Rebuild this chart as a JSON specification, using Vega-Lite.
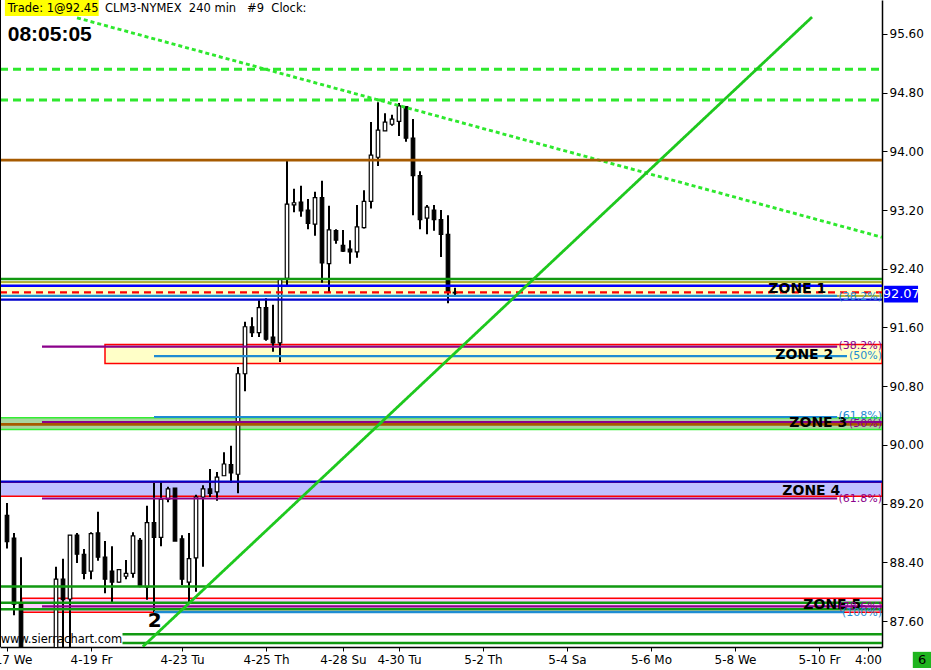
{
  "$schema": "https://vega.github.io/schema/vega-lite/v6.json",
  "width": 882,
  "height": 647,
  "autosize": {"type": "none"},
  "padding": {"left": 0, "top": 0, "right": 49, "bottom": 23},
  "background": "white",
  "datasets": {
    "candles": [
      {"i": 1, "o": 89.04, "h": 89.21, "l": 88.59, "c": 88.68},
      {"i": 2, "o": 88.73, "h": 88.80, "l": 87.68, "c": 87.83},
      {"i": 3, "o": 87.83, "h": 88.47, "l": 86.95, "c": 87.05},
      {"i": 8, "o": 87.15, "h": 88.34, "l": 87.00, "c": 88.17},
      {"i": 9, "o": 88.17, "h": 88.45, "l": 87.20, "c": 87.89},
      {"i": 10, "o": 87.90, "h": 88.77, "l": 87.15, "c": 88.77},
      {"i": 11, "o": 88.77, "h": 88.80, "l": 88.39, "c": 88.51},
      {"i": 12, "o": 88.51, "h": 88.58, "l": 88.17, "c": 88.25},
      {"i": 13, "o": 88.28, "h": 88.81, "l": 88.17, "c": 88.79},
      {"i": 14, "o": 88.80, "h": 89.09, "l": 88.42, "c": 88.47},
      {"i": 15, "o": 88.47, "h": 88.69, "l": 87.98, "c": 88.17},
      {"i": 16, "o": 88.28, "h": 88.62, "l": 87.86, "c": 88.13},
      {"i": 17, "o": 88.13, "h": 88.31, "l": 88.12, "c": 88.30},
      {"i": 18, "o": 88.21, "h": 88.43, "l": 88.17, "c": 88.25},
      {"i": 19, "o": 88.25, "h": 88.81, "l": 88.19, "c": 88.76},
      {"i": 20, "o": 88.70, "h": 88.73, "l": 88.06, "c": 88.08},
      {"i": 21, "o": 88.06, "h": 89.17, "l": 87.89, "c": 88.94},
      {"i": 22, "o": 88.94, "h": 89.48, "l": 87.72, "c": 88.74},
      {"i": 23, "o": 88.74, "h": 89.49, "l": 88.62, "c": 89.26},
      {"i": 24, "o": 89.26, "h": 89.43, "l": 89.22, "c": 89.40},
      {"i": 25, "o": 89.41, "h": 89.41, "l": 88.69, "c": 88.69},
      {"i": 26, "o": 88.72, "h": 88.77, "l": 88.09, "c": 88.17},
      {"i": 27, "o": 88.13, "h": 88.80, "l": 87.85, "c": 88.45},
      {"i": 28, "o": 88.46, "h": 89.32, "l": 88.00, "c": 89.29},
      {"i": 29, "o": 89.29, "h": 89.45, "l": 88.34, "c": 89.40},
      {"i": 30, "o": 89.40, "h": 89.67, "l": 89.29, "c": 89.34},
      {"i": 31, "o": 89.36, "h": 89.63, "l": 89.24, "c": 89.56},
      {"i": 32, "o": 89.58, "h": 89.90, "l": 89.58, "c": 89.74},
      {"i": 33, "o": 89.73, "h": 89.99, "l": 89.48, "c": 89.62},
      {"i": 34, "o": 89.60, "h": 91.06, "l": 89.34, "c": 90.97},
      {"i": 35, "o": 90.97, "h": 91.68, "l": 90.73, "c": 91.61},
      {"i": 36, "o": 91.61, "h": 91.74, "l": 91.47, "c": 91.53},
      {"i": 37, "o": 91.53, "h": 91.97, "l": 91.47, "c": 91.87},
      {"i": 38, "o": 91.87, "h": 92.00, "l": 91.42, "c": 91.44},
      {"i": 39, "o": 91.47, "h": 91.91, "l": 91.27, "c": 91.39},
      {"i": 40, "o": 91.39, "h": 92.27, "l": 91.13, "c": 92.26},
      {"i": 41, "o": 92.27, "h": 93.87, "l": 92.18, "c": 93.28},
      {"i": 42, "o": 93.27, "h": 93.49, "l": 93.17, "c": 93.30},
      {"i": 43, "o": 93.31, "h": 93.53, "l": 93.11, "c": 93.19},
      {"i": 44, "o": 93.20, "h": 93.35, "l": 92.94, "c": 93.02},
      {"i": 45, "o": 93.01, "h": 93.45, "l": 92.85, "c": 93.37},
      {"i": 46, "o": 93.37, "h": 93.60, "l": 92.21, "c": 92.48},
      {"i": 47, "o": 92.47, "h": 93.26, "l": 92.08, "c": 92.93},
      {"i": 48, "o": 92.92, "h": 92.94, "l": 92.74, "c": 92.79},
      {"i": 49, "o": 92.72, "h": 92.93, "l": 92.63, "c": 92.64},
      {"i": 50, "o": 92.67, "h": 92.79, "l": 92.47, "c": 92.63},
      {"i": 51, "o": 92.63, "h": 93.27, "l": 92.55, "c": 92.97},
      {"i": 52, "o": 92.96, "h": 93.47, "l": 92.95, "c": 93.32},
      {"i": 53, "o": 93.32, "h": 94.40, "l": 93.22, "c": 93.95},
      {"i": 54, "o": 93.92, "h": 94.67, "l": 93.80, "c": 94.29},
      {"i": 55, "o": 94.28, "h": 94.52, "l": 94.28, "c": 94.40},
      {"i": 56, "o": 94.37, "h": 94.50, "l": 94.35, "c": 94.44},
      {"i": 57, "o": 94.41, "h": 94.66, "l": 94.21, "c": 94.62},
      {"i": 58, "o": 94.61, "h": 94.62, "l": 94.13, "c": 94.18},
      {"i": 59, "o": 94.18, "h": 94.44, "l": 93.13, "c": 93.67},
      {"i": 60, "o": 93.67, "h": 93.73, "l": 92.94, "c": 93.07},
      {"i": 61, "o": 93.09, "h": 93.27, "l": 92.87, "c": 93.24},
      {"i": 62, "o": 93.20, "h": 93.27, "l": 92.92, "c": 93.07},
      {"i": 63, "o": 93.07, "h": 93.20, "l": 92.56, "c": 92.87},
      {"i": 64, "o": 92.87, "h": 93.13, "l": 91.93, "c": 92.08},
      {"i": 65, "o": 92.08, "h": 92.14, "l": 92.04, "c": 92.07}
    ],
    "zones": [
      {"zk": "z1", "i": 0, "i2": 126, "p": 92.22, "p2": 92.03},
      {"zk": "z2", "i": 15, "i2": 126, "p": 91.37, "p2": 91.11},
      {"zk": "z3", "i": 0, "i2": 126, "p": 90.37, "p2": 90.21},
      {"zk": "z4", "i": 0, "i2": 126, "p": 89.49, "p2": 89.30},
      {"zk": "z5", "i": 3.1, "i2": 126, "p": 87.91, "p2": 87.72}
    ],
    "levels": [
      {"kind": "gdash", "i": 0, "i2": 126, "p": 95.12, "p2": 95.12},
      {"kind": "gdash", "i": 0, "i2": 126, "p": 94.70, "p2": 94.70},
      {"kind": "gdiag", "i": 11, "i2": 126, "p": 95.82, "p2": 92.83},
      {"kind": "brown", "i": 0, "i2": 126, "p": 93.88, "p2": 93.88},
      {"kind": "green", "i": 0, "i2": 126, "p": 92.26, "p2": 92.26},
      {"kind": "blue2", "i": 0, "i2": 126, "p": 92.17, "p2": 92.17},
      {"kind": "reddash", "i": 0, "i2": 126, "p": 92.08, "p2": 92.08},
      {"kind": "lightblue", "i": 0, "i2": 119.6, "p": 92.03, "p2": 92.03},
      {"kind": "blue", "i": 0, "i2": 126, "p": 91.98, "p2": 91.98},
      {"kind": "purple", "i": 6, "i2": 119.6, "p": 91.34, "p2": 91.34},
      {"kind": "lightblue", "i": 22, "i2": 121, "p": 91.21, "p2": 91.21},
      {"kind": "lightblue", "i": 22, "i2": 119.6, "p": 90.38, "p2": 90.38},
      {"kind": "purple", "i": 6, "i2": 126, "p": 90.31, "p2": 90.31},
      {"kind": "brown", "i": 0, "i2": 126, "p": 90.28, "p2": 90.28},
      {"kind": "blue", "i": 0, "i2": 126, "p": 89.50, "p2": 89.50},
      {"kind": "purple", "i": 6, "i2": 119.6, "p": 89.27, "p2": 89.27},
      {"kind": "green", "i": 0, "i2": 126, "p": 88.07, "p2": 88.07},
      {"kind": "green", "i": 0, "i2": 126, "p": 87.85, "p2": 87.85},
      {"kind": "purple", "i": 6, "i2": 126, "p": 87.80, "p2": 87.80},
      {"kind": "green", "i": 0, "i2": 126, "p": 87.76, "p2": 87.76},
      {"kind": "lightblue", "i": 22, "i2": 120.6, "p": 87.72, "p2": 87.72},
      {"kind": "green", "i": 17.5, "i2": 126, "p": 87.42, "p2": 87.42},
      {"kind": "green", "i": 17.5, "i2": 126, "p": 87.30, "p2": 87.30},
      {"kind": "trend", "i": 20.4, "i2": 116, "p": 87.25, "p2": 95.83},
      {"kind": "frame", "i": 0, "i2": 0, "p": 87.246, "p2": 96.063}
    ],
    "zonelabels": [
      {"t": "ZONE 1", "i": 113.9, "p": 92.13},
      {"t": "ZONE 2", "i": 114.9, "p": 91.23},
      {"t": "ZONE 3", "i": 116.9, "p": 90.30},
      {"t": "ZONE 4", "i": 115.9, "p": 89.37},
      {"t": "ZONE 5", "i": 118.9, "p": 87.82}
    ],
    "pcts": [
      {"t": "(38.2%)", "kind": "lightblue", "i": 126, "p": 92.016},
      {"t": "(38.2%)", "kind": "purple", "i": 126, "p": 91.348},
      {"t": "(50%)", "kind": "lightblue", "i": 126, "p": 91.21},
      {"t": "(61.8%)", "kind": "lightblue", "i": 126, "p": 90.39},
      {"t": "(50%)", "kind": "purple", "i": 126, "p": 90.28},
      {"t": "(61.8%)", "kind": "purple", "i": 126, "p": 89.26},
      {"t": "(78.6%)", "kind": "purple", "i": 126, "p": 87.79},
      {"t": "(100%)", "kind": "lightblue", "i": 126, "p": 87.71}
    ],
    "notes": [
      {"t": "Trade: 1@92.45", "i": 1.1, "p": 95.94},
      {"t": "CLM3-NYMEX\u00a0\u00a0240 min\u00a0\u00a0\u00a0#9\u00a0\u00a0Clock:", "i": 15, "p": 95.94},
      {"t": "www.sierrachart.com", "i": 0.1, "p": 87.34}
    ]
  },
  "layer": [
    {
      "data": {"name": "zones"},
      "mark": {"type": "rect", "clip": true, "strokeWidth": 1.5},
      "encoding": {
        "x": {"field": "i", "type": "quantitative", "scale": {"domain": [0, 126], "nice": false, "zero": false, "padding": 0},
          "axis": {"title": null, "values": [1, 13, 26, 38, 49, 57, 69, 81, 93, 105, 117, 124],
            "labelExpr": "['4-17 We','4-19 Fr','4-23 Tu','4-25 Th','4-28 Su','4-30 Tu','5-2 Th','5-4 Sa','5-6 Mo','5-8 We','5-10 Fr','4:00'][indexof([1,13,26,38,49,57,69,81,93,105,117,124], datum.value)]",
            "labelOverlap": false, "labelFlush": false, "tickSize": 4, "labelPadding": 3, "grid": false}},
        "x2": {"field": "i2"},
        "y": {"field": "p", "type": "quantitative", "scale": {"domain": [87.246, 96.063], "nice": false, "zero": false, "padding": 0},
          "axis": {"title": null, "orient": "right", "values": [87.6, 88.0, 88.4, 88.8, 89.2, 89.6, 90.0, 90.4, 90.8, 91.2, 91.6, 92.0, 92.4, 92.8, 93.2, 93.6, 94.0, 94.4, 94.8, 95.2, 95.6],
            "format": ".2f", "tickSize": 5, "labelPadding": 2, "grid": false, "labelOverlap": false}},
        "y2": {"field": "p2"},
        "fill": {"field": "zk", "type": "nominal", "legend": null,
          "scale": {"domain": ["z1", "z2", "z3", "z4", "z5"], "range": ["#FFFFC8", "#FFFFC8", "#A8D4A0", "#C0C0FF", "#FFCCFF"]}},
        "stroke": {"field": "zk", "type": "nominal", "legend": null,
          "scale": {"domain": ["z1", "z2", "z3", "z4", "z5"], "range": ["#999900", "#FF0000", "#33EE33", "#FF0000", "#FF0000"]}}
      }
    },
    {
      "data": {"name": "candles"},
      "mark": {"type": "rule", "clip": true, "strokeWidth": 2, "color": "black"},
      "encoding": {
        "x": {"field": "i", "type": "quantitative", "scale": {"domain": [0, 126], "nice": false, "zero": false, "padding": 0}},
        "y": {"field": "l", "type": "quantitative", "scale": {"domain": [87.246, 96.063], "nice": false, "zero": false, "padding": 0}},
        "y2": {"field": "h"}
      }
    },
    {
      "data": {"name": "candles"},
      "mark": {"type": "bar", "clip": true, "size": 3.5, "stroke": "black", "strokeWidth": 1.2},
      "encoding": {
        "x": {"field": "i", "type": "quantitative", "scale": {"domain": [0, 126], "nice": false, "zero": false, "padding": 0}},
        "y": {"field": "o", "type": "quantitative", "scale": {"domain": [87.246, 96.063], "nice": false, "zero": false, "padding": 0}},
        "y2": {"field": "c"},
        "fill": {"condition": {"test": "datum.c >= datum.o", "value": "white"}, "value": "black"}
      }
    },
    {
      "data": {"name": "levels"},
      "mark": {"type": "rule", "clip": true},
      "encoding": {
        "x": {"field": "i", "type": "quantitative", "scale": {"domain": [0, 126], "nice": false, "zero": false, "padding": 0}},
        "x2": {"field": "i2"},
        "y": {"field": "p", "type": "quantitative", "scale": {"domain": [87.246, 96.063], "nice": false, "zero": false, "padding": 0}},
        "y2": {"field": "p2"},
        "color": {"field": "kind", "type": "nominal", "legend": null,
          "scale": {"domain": ["gdash", "gdiag", "trend", "brown", "green", "blue2", "blue", "reddash", "lightblue", "purple", "frame"],
            "range": ["#2EE82E", "#2EE82E", "#1EC81E", "#A65A00", "#119911", "#0000FF", "#0000CC", "#FF0000", "#1E8CD2", "#8B008B", "#000000"]}},
        "strokeWidth": {"field": "kind", "type": "nominal", "legend": null,
          "scale": {"domain": ["gdash", "gdiag", "trend", "brown", "green", "blue2", "blue", "reddash", "lightblue", "purple", "frame"],
            "range": [3, 2, 3, 2.5, 1.2, 2.5, 1.3, 3, 1.3, 1.4, 2]}},
        "strokeDash": {"field": "kind", "type": "nominal", "legend": null,
          "scale": {"domain": ["gdash", "gdiag", "trend", "brown", "green", "blue2", "blue", "reddash", "lightblue", "purple", "frame"],
            "range": [[8, 5], [4, 3], [1, 0], [1, 0], [1, 0], [1, 0], [1, 0], [7, 5], [1, 0], [1, 0], [1, 0]]}}
      }
    },
    {
      "data": {"name": "zonelabels"},
      "mark": {"type": "text", "font": "DejaVu Sans", "fontWeight": "bold", "fontSize": 14, "color": "black", "align": "center", "baseline": "middle"},
      "encoding": {
        "x": {"field": "i", "type": "quantitative", "scale": {"domain": [0, 126], "nice": false, "zero": false, "padding": 0}},
        "y": {"field": "p", "type": "quantitative", "scale": {"domain": [87.246, 96.063], "nice": false, "zero": false, "padding": 0}},
        "text": {"field": "t"}
      }
    },
    {
      "data": {"name": "pcts"},
      "mark": {"type": "text", "font": "DejaVu Sans", "fontSize": 11, "align": "right", "baseline": "middle"},
      "encoding": {
        "x": {"field": "i", "type": "quantitative", "scale": {"domain": [0, 126], "nice": false, "zero": false, "padding": 0}},
        "y": {"field": "p", "type": "quantitative", "scale": {"domain": [87.246, 96.063], "nice": false, "zero": false, "padding": 0}},
        "text": {"field": "t"},
        "color": {"field": "kind", "type": "nominal", "legend": null}
      }
    },
    {
      "data": {"values": [{"t": "2", "i": 22.1, "p": 87.6}]},
      "mark": {"type": "text", "font": "DejaVu Sans", "fontWeight": "bold", "fontSize": 20, "color": "black", "align": "center", "baseline": "middle"},
      "encoding": {
        "x": {"field": "i", "type": "quantitative", "scale": {"domain": [0, 126], "nice": false, "zero": false, "padding": 0}},
        "y": {"field": "p", "type": "quantitative", "scale": {"domain": [87.246, 96.063], "nice": false, "zero": false, "padding": 0}},
        "text": {"field": "t"}
      }
    },
    {
      "data": {"values": [{"i": 0.7, "i2": 14.1, "p": 95.845, "p2": 96.07}]},
      "mark": {"type": "rect", "fill": "#FFFF00"},
      "encoding": {
        "x": {"field": "i", "type": "quantitative", "scale": {"domain": [0, 126], "nice": false, "zero": false, "padding": 0}},
        "x2": {"field": "i2"},
        "y": {"field": "p", "type": "quantitative", "scale": {"domain": [87.246, 96.063], "nice": false, "zero": false, "padding": 0}},
        "y2": {"field": "p2"}
      }
    },
    {
      "data": {"values": [{"i": 126.3, "i2": 131.15, "p": 92.17, "p2": 91.94}]},
      "mark": {"type": "rect", "fill": "#0000FF"},
      "encoding": {
        "x": {"field": "i", "type": "quantitative", "scale": {"domain": [0, 126], "nice": false, "zero": false, "padding": 0}},
        "x2": {"field": "i2"},
        "y": {"field": "p", "type": "quantitative", "scale": {"domain": [87.246, 96.063], "nice": false, "zero": false, "padding": 0}},
        "y2": {"field": "p2"}
      }
    },
    {
      "data": {"values": [{"i": 130.4, "i2": 133, "p": 87.18, "p2": 86.96}]},
      "mark": {"type": "rect", "fill": "#1FB51F"},
      "encoding": {
        "x": {"field": "i", "type": "quantitative", "scale": {"domain": [0, 126], "nice": false, "zero": false, "padding": 0}},
        "x2": {"field": "i2"},
        "y": {"field": "p", "type": "quantitative", "scale": {"domain": [87.246, 96.063], "nice": false, "zero": false, "padding": 0}},
        "y2": {"field": "p2"}
      }
    },
    {
      "data": {"name": "notes"},
      "mark": {"type": "text", "font": "DejaVu Sans", "fontSize": 11.5, "color": "black", "align": "left", "baseline": "middle"},
      "encoding": {
        "x": {"field": "i", "type": "quantitative", "scale": {"domain": [0, 126], "nice": false, "zero": false, "padding": 0}},
        "y": {"field": "p", "type": "quantitative", "scale": {"domain": [87.246, 96.063], "nice": false, "zero": false, "padding": 0}},
        "text": {"field": "t"}
      }
    },
    {
      "data": {"values": [{"t": "08:05:05", "i": 1.1, "p": 95.586}]},
      "mark": {"type": "text", "font": "Liberation Sans", "fontWeight": "bold", "fontSize": 21, "color": "black", "align": "left", "baseline": "middle"},
      "encoding": {
        "x": {"field": "i", "type": "quantitative", "scale": {"domain": [0, 126], "nice": false, "zero": false, "padding": 0}},
        "y": {"field": "p", "type": "quantitative", "scale": {"domain": [87.246, 96.063], "nice": false, "zero": false, "padding": 0}},
        "text": {"field": "t"}
      }
    },
    {
      "data": {"values": [{"t": "92.07", "i": 128.75, "p": 92.055}]},
      "mark": {"type": "text", "font": "DejaVu Sans", "fontSize": 13, "color": "white", "align": "center", "baseline": "middle"},
      "encoding": {
        "x": {"field": "i", "type": "quantitative", "scale": {"domain": [0, 126], "nice": false, "zero": false, "padding": 0}},
        "y": {"field": "p", "type": "quantitative", "scale": {"domain": [87.246, 96.063], "nice": false, "zero": false, "padding": 0}},
        "text": {"field": "t"}
      }
    },
    {
      "data": {"values": [{"t": "6", "i": 131.75, "p": 87.07}]},
      "mark": {"type": "text", "font": "DejaVu Sans", "fontSize": 13, "color": "black", "align": "center", "baseline": "middle"},
      "encoding": {
        "x": {"field": "i", "type": "quantitative", "scale": {"domain": [0, 126], "nice": false, "zero": false, "padding": 0}},
        "y": {"field": "p", "type": "quantitative", "scale": {"domain": [87.246, 96.063], "nice": false, "zero": false, "padding": 0}},
        "text": {"field": "t"}
      }
    }
  ],
  "config": {
    "view": {"stroke": null},
    "axis": {
      "title": null,
      "grid": false,
      "domainColor": "black",
      "domainWidth": 1.5,
      "tickColor": "black",
      "labelColor": "black",
      "labelFont": "DejaVu Sans",
      "labelFontSize": 12
    }
  }
}
